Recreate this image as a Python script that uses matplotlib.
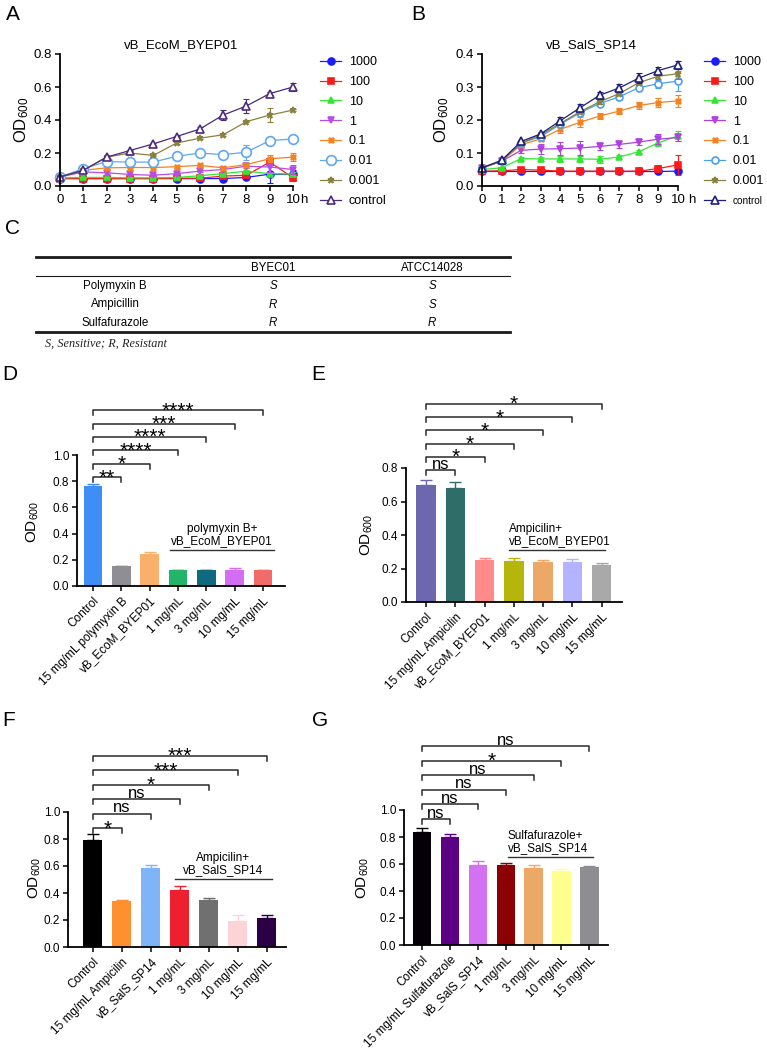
import matplotlib
matplotlib.use('Agg')
from matplotlib import pyplot as plt
from matplotlib.lines import Line2D
from matplotlib.transforms import offset_copy

plt.rcParams['font.family'] = ['Liberation Sans', 'DejaVu Sans']
plt.rcParams['mathtext.default'] = 'regular'

W, H = 767, 1060

"""
Data
"""

hours = [0, 1, 2, 3, 4, 5, 6, 7, 8, 9, 10]
conc_labels = ['1000', '100', '10', '1', '0.1', '0.01', '0.001', 'control']

# A: vB_EcoM_BYEP01
a_1000 = [0.045, 0.045, 0.045, 0.045, 0.045, 0.045, 0.045, 0.045, 0.052, 0.072, 0.070]
a_1000_err = [0.003, 0.003, 0.003, 0.003, 0.003, 0.003, 0.003, 0.003, 0.005, 0.055, 0.03]
a_100 = [0.045, 0.045, 0.045, 0.045, 0.045, 0.047, 0.047, 0.06, 0.065, 0.145, 0.05]
a_100_err = [0.003, 0.003, 0.003, 0.003, 0.003, 0.003, 0.003, 0.005, 0.005, 0.02, 0.02]
a_10 = [0.05, 0.052, 0.052, 0.05, 0.05, 0.052, 0.062, 0.075, 0.09, 0.075, 0.072]
a_10_err = [0.003, 0.003, 0.003, 0.003, 0.003, 0.003, 0.003, 0.005, 0.005, 0.01, 0.01]
a_1 = [0.055, 0.085, 0.08, 0.07, 0.065, 0.075, 0.09, 0.1, 0.12, 0.115, 0.1]
a_1_err = [0.003, 0.005, 0.005, 0.005, 0.005, 0.005, 0.005, 0.01, 0.01, 0.03, 0.025]
a_01 = [0.055, 0.095, 0.11, 0.112, 0.112, 0.117, 0.125, 0.11, 0.13, 0.165, 0.175]
a_01_err = [0.003, 0.005, 0.005, 0.005, 0.005, 0.005, 0.005, 0.005, 0.01, 0.02, 0.025]
a_001 = [0.055, 0.105, 0.148, 0.145, 0.145, 0.18, 0.2, 0.19, 0.205, 0.275, 0.285]
a_001_err = [0.003, 0.01, 0.01, 0.008, 0.008, 0.02, 0.025, 0.01, 0.045, 0.01, 0.01]
a_0001 = [0.055, 0.095, 0.175, 0.2, 0.185, 0.26, 0.29, 0.31, 0.39, 0.43, 0.46]
a_0001_err = [0.003, 0.005, 0.005, 0.005, 0.005, 0.005, 0.005, 0.005, 0.005, 0.045, 0.005]
a_ctrl = [0.055, 0.095, 0.175, 0.215, 0.255, 0.3, 0.345, 0.43, 0.485, 0.56, 0.6]
a_ctrl_err = [0.003, 0.005, 0.005, 0.005, 0.005, 0.005, 0.01, 0.03, 0.04, 0.01, 0.025]

# B: vB_SalS_SP14
b_1000 = [0.044, 0.044, 0.044, 0.044, 0.044, 0.044, 0.044, 0.044, 0.044, 0.044, 0.045]
b_1000_err = [0.002, 0.002, 0.002, 0.002, 0.002, 0.002, 0.002, 0.002, 0.002, 0.002, 0.002]
b_100 = [0.045, 0.046, 0.05, 0.048, 0.045, 0.045, 0.045, 0.045, 0.045, 0.053, 0.064]
b_100_err = [0.003, 0.003, 0.004, 0.004, 0.003, 0.003, 0.003, 0.003, 0.005, 0.01, 0.03]
b_10 = [0.05, 0.055, 0.083, 0.082, 0.082, 0.082, 0.081, 0.088, 0.104, 0.131, 0.152]
b_10_err = [0.003, 0.003, 0.005, 0.006, 0.008, 0.008, 0.01, 0.005, 0.005, 0.01, 0.015]
b_1 = [0.055, 0.075, 0.108, 0.112, 0.113, 0.115, 0.12, 0.126, 0.133, 0.142, 0.147]
b_1_err = [0.003, 0.005, 0.008, 0.015, 0.02, 0.02, 0.01, 0.01, 0.01, 0.015, 0.012]
b_01 = [0.055, 0.075, 0.125, 0.143, 0.172, 0.193, 0.212, 0.227, 0.244, 0.253, 0.258]
b_01_err = [0.003, 0.005, 0.008, 0.008, 0.01, 0.015, 0.01, 0.008, 0.01, 0.015, 0.018]
b_001 = [0.055, 0.075, 0.13, 0.15, 0.187, 0.222, 0.25, 0.27, 0.298, 0.31, 0.318]
b_001_err = [0.003, 0.005, 0.005, 0.005, 0.008, 0.008, 0.008, 0.008, 0.008, 0.012, 0.03]
b_0001 = [0.055, 0.075, 0.13, 0.155, 0.19, 0.225, 0.255, 0.28, 0.313, 0.333, 0.34]
b_0001_err = [0.003, 0.005, 0.005, 0.005, 0.005, 0.005, 0.005, 0.005, 0.005, 0.008, 0.015]
b_ctrl = [0.055, 0.078, 0.135, 0.158, 0.198, 0.237, 0.275, 0.297, 0.327, 0.35, 0.367]
b_ctrl_err = [0.003, 0.005, 0.005, 0.005, 0.01, 0.01, 0.01, 0.012, 0.015, 0.012, 0.012]

# C: susceptibility table
tab_cols = ['BYEC01', 'ATCC14028']
tab_rows = ['Polymyxin B', 'Ampicillin', 'Sulfafurazole']
tab_byec = ['S', 'R', 'R']
tab_atcc = ['S', 'S', 'R']

# D-G: bar panels
conc_ticks = ['1 mg/mL', '3 mg/mL', '10 mg/mL', '15 mg/mL']
d_labels = ['Control', '15 mg/mL polymyxin B', 'vB_EcoM_BYEP01'] + conc_ticks
d_vals = [0.76, 0.15, 0.245, 0.12, 0.12, 0.125, 0.12]
d_errs = [0.015, 0.003, 0.015, 0.003, 0.003, 0.01, 0.003]
d_sig = ['**', '*', '****', '****', '***', '****']

e_labels = ['Control', '15 mg/mL Ampicilin', 'vB_EcoM_BYEP01'] + conc_ticks
e_vals = [0.70, 0.68, 0.25, 0.245, 0.24, 0.24, 0.22]
e_errs = [0.03, 0.035, 0.012, 0.015, 0.012, 0.015, 0.012]
e_sig = ['ns', '*', '*', '*', '*', '*']

f_labels = ['Control', '15 mg/mL Ampicilin', 'vB_SalS_SP14'] + conc_ticks
f_vals = [0.79, 0.34, 0.585, 0.425, 0.35, 0.19, 0.215]
f_errs = [0.045, 0.01, 0.02, 0.025, 0.012, 0.045, 0.025]
f_sig = ['*', 'ns', 'ns', '*', '***', '***']

g_labels = ['Control', '15 mg/mL Sulfafurazole', 'vB_SalS_SP14'] + conc_ticks
g_vals = [0.835, 0.80, 0.595, 0.59, 0.57, 0.55, 0.575]
g_errs = [0.03, 0.025, 0.025, 0.02, 0.02, 0.015, 0.012]
g_sig = ['ns', 'ns', 'ns', 'ns', '*', 'ns']

d_colors = ['#3f8ef5', '#8e8e93', '#f8b06a', '#22b46a', '#0e6a80', '#d36ef2', '#f26b6b']
e_colors = ['#6b68b0', '#2e6d68', '#ff8a8a', '#b5b50c', '#eca867', '#b3b3ff', '#a9a9a9']
f_colors = ['#000000', '#ff9030', '#80b4f8', '#ee1f2f', '#707070', '#fcd3d6', '#2b0045']
g_colors = ['#050008', '#5c0085', '#d272f2', '#8b0000', '#eca867', '#ffff90', '#8e8e92']


"""
Helpers
"""

fig = plt.figure(figsize=(W / 100, H / 100), dpi=100)


def add_ax(l, t, r, b):
    return fig.add_axes([l / W, 1 - b / H, (r - l) / W, (b - t) / H])


def ftext(x, y, s, **kw):
    return fig.text(x / W, 1 - y / H, s, **kw)


def fline(x0, x1, y, lw):
    fig.add_artist(Line2D([x0 / W, x1 / W], [1 - y / H, 1 - y / H],
                          lw=lw, color='#1a1a1a'))


def style(ax, fs):
    for s in ['top', 'right']:
        ax.spines[s].set_visible(False)
    for s in ['left', 'bottom']:
        ax.spines[s].set_linewidth(1.3)
    ax.tick_params(length=3.5, width=1.1, labelsize=fs, pad=2)


"""
Line charts
"""


def line_panel(ax, series, errs, colors, markers, ymax, yticks):
    for y, e, c, m, lab in zip(series, errs, colors, markers, conc_labels):
        mk, ms, mfc = m
        ax.errorbar(hours, y, yerr=e, fmt='none', ecolor=c, elinewidth=0.8,
                    capsize=2.5, capthick=0.8, clip_on=False)
        ax.plot(hours, y, color=c, lw=0.9, marker=mk, ms=ms, mfc=mfc,
                mec=c, mew=1.2, label=lab, clip_on=False)
    ax.set_xlim(0, 10)
    ax.set_ylim(0, ymax)
    ax.set_xticks(hours)
    ax.set_yticks(yticks)
    ax.set_yticklabels(['%.1f' % v for v in yticks])
    style(ax, 9.5)
    h, l = ax.get_legend_handles_labels()
    return h, l


a_colors = ['#1a1aff', '#ff1a1a', '#33e633', '#b84de6', '#f58220', '#5ea8f0',
            '#8c8040', '#4b2a7b']
b_colors = ['#1a1aff', '#ff1a1a', '#33e633', '#b040e0', '#f58220', '#4aa0f0',
            '#8c8040', '#1f1f7a']
a_markers = [('o', 5, None), ('s', 5, None), ('^', 5, None), ('v', 5, None),
             ((4, 1, 45), 5, None), ('o', 7, 'white'), ('*', 5, None),
             ('^', 6, 'white')]
b_markers = [('o', 5, None), ('s', 5, None), ('^', 5, None), ('v', 5, None),
             ((4, 1, 45), 5, None), ('o', 5, 'white'), ('*', 5, None),
             ('^', 6, 'white')]

axA = add_ax(60, 54, 293, 186)
hA, lA = line_panel(axA, [a_1000, a_100, a_10, a_1, a_01, a_001, a_0001, a_ctrl],
                    [a_1000_err, a_100_err, a_10_err, a_1_err, a_01_err,
                     a_001_err, a_0001_err, a_ctrl_err],
                    a_colors, a_markers, 0.8, [0, 0.2, 0.4, 0.6, 0.8])
fig.legend(hA, lA, loc='upper left', bbox_to_anchor=(320 / W, 1 - 56 / H),
           frameon=False, fontsize=9, handlelength=1.7, handletextpad=0.6,
           labelspacing=0.63, borderpad=0, borderaxespad=0)
ftext(181, 45, 'vB_EcoM_BYEP01', ha='center', va='center', fontsize=9.5)
ftext(304, 200, 'h', ha='center', va='center', fontsize=9.5)

axB = add_ax(482, 54, 678, 186)
hB, lB = line_panel(axB, [b_1000, b_100, b_10, b_1, b_01, b_001, b_0001, b_ctrl],
                    [b_1000_err, b_100_err, b_10_err, b_1_err, b_01_err,
                     b_001_err, b_0001_err, b_ctrl_err],
                    b_colors, b_markers, 0.4, [0, 0.1, 0.2, 0.3, 0.4])
legB = fig.legend(hB, lB, loc='upper left', bbox_to_anchor=(704 / W, 1 - 56 / H),
                  frameon=False, fontsize=9, handlelength=1.7, handletextpad=0.6,
                  labelspacing=0.63, borderpad=0, borderaxespad=0)
legB.get_texts()[-1].set_fontsize(7.2)
ftext(591, 45, 'vB_SalS_SP14', ha='center', va='center', fontsize=9.5)
ftext(692, 200, 'h', ha='center', va='center', fontsize=9.5)

ftext(22, 120, 'OD$_{600}$', rotation=90, ha='center', va='center', fontsize=12)
ftext(442, 120, 'OD$_{600}$', rotation=90, ha='center', va='center', fontsize=12)


"""
Table C
"""

fline(36, 510, 257, 2.0)
fline(36, 510, 276, 0.8)
fline(36, 510, 332, 2.0)
ftext(273, 268, tab_cols[0], ha='center', va='center', fontsize=8.3)
ftext(432, 268, tab_cols[1], ha='center', va='center', fontsize=8.3)
for i, (r, s1, s2) in enumerate(zip(tab_rows, tab_byec, tab_atcc)):
    y = 286 + i * 18.5
    ftext(115, y, r, ha='center', va='center', fontsize=8.3)
    ftext(273, y, s1, ha='center', va='center', fontsize=8.3, style='italic')
    ftext(432, y, s2, ha='center', va='center', fontsize=8.3, style='italic')
ftext(45, 344, 'S, Sensitive; R, Resistant', ha='left', va='center',
      fontsize=8.8, style='italic', family='Liberation Serif', color='#222222')


"""
Bar charts
"""


def bar_panel(ax, vals, errs, colors, labels, sigs, ymax, xl, xr, y0, step,
              group, gx, gy, galign):
    x = list(range(len(vals)))
    ax.bar(x, vals, width=0.66, color=colors, zorder=2)
    for xi, v, e, c in zip(x, vals, errs, colors):
        ax.errorbar(xi, v, yerr=[[0], [e]], fmt='none', ecolor=c,
                    elinewidth=1.0, capsize=4, capthick=1.0, zorder=3)
    ax.set_xlim(xl, xr)
    ax.set_ylim(0, ymax)
    yt = [i * 0.2 for i in range(int(round(ymax / 0.2)) + 1)]
    ax.set_yticks(yt)
    ax.set_yticklabels(['%.1f' % v for v in yt])
    ax.set_xticks(x)
    ax.set_xticklabels(labels, rotation=45, ha='right',
                       rotation_mode='anchor', fontsize=8.5)
    style(ax, 8.5)
    ax.tick_params(axis='x', pad=3)
    ppu = ax.bbox.height / ymax
    tip = 5 / ppu
    for i, s in enumerate(sigs):
        y = y0 + i * step
        ax.plot([0, 0, i + 1, i + 1], [y - tip, y, y, y - tip], color='#2a2a2a',
                lw=1.1, clip_on=False)
        if s == 'ns':
            tr = offset_copy(ax.transData, fig=fig, y=1.0, units='points')
            ax.text(i / 2 + 0.5, y, s, transform=tr, ha='center',
                    va='baseline', fontsize=12)
        else:
            tr = offset_copy(ax.transData, fig=fig, y=-4.6, units='points')
            ax.text(i / 2 + 0.5, y, s, transform=tr, ha='center',
                    va='baseline', fontsize=15)
    ax.plot([gx[0], gx[1]], [gy, gy], color='#333333', lw=1.0, clip_on=False)
    tr = offset_copy(ax.transData, fig=fig, y=2, units='points')
    tx = (gx[0] + gx[1]) / 2 if galign == 'center' else gx[0]
    ax.text(tx, gy, group, transform=tr, ha=galign, va='bottom',
            multialignment=galign, fontsize=8.5, linespacing=1.05)


axD = add_ax(77, 455, 285, 586)
bar_panel(axD, d_vals, d_errs, d_colors, d_labels, d_sig, 1.0, -0.565, 6.78,
          0.832, 0.102, 'polymyxin B+\nvB_EcoM_BYEP01', (2.72, 6.4), 0.275,
          'center')
axE = add_ax(406, 468, 622, 602)
bar_panel(axE, e_vals, e_errs, e_colors, e_labels, e_sig, 0.8, -0.68, 6.69,
          0.788, 0.079, 'Ampicilin+\nvB_EcoM_BYEP01', (2.83, 6.11), 0.31,
          'left')
axF = add_ax(68, 812, 286, 947)
bar_panel(axF, f_vals, f_errs, f_colors, f_labels, f_sig, 1.0, -0.86, 6.66,
          0.881, 0.107, 'Ampicilin+\nvB_SalS_SP14', (2.83, 6.17), 0.504,
          'center')
axG = add_ax(404, 810, 608, 945)
bar_panel(axG, g_vals, g_errs, g_colors, g_labels, g_sig, 1.0, -0.65, 6.67,
          0.933, 0.108, 'Sulfafurazole+\nvB_SalS_SP14', (3.08, 6.13), 0.652,
          'left')

for x, y in [(33, 522), (367, 535), (35, 878), (363, 878)]:
    ftext(x, y, 'OD$_{600}$', rotation=90, ha='center', va='center', fontsize=11)

for s, x, y in [('A', 13, 15), ('B', 418, 15), ('C', 13, 228), ('D', 10, 375),
                ('E', 318, 375), ('F', 9, 720), ('G', 320, 720)]:
    ftext(x, y, s, ha='center', va='center', fontsize=15)

fig.savefig('out.png', dpi=100)
